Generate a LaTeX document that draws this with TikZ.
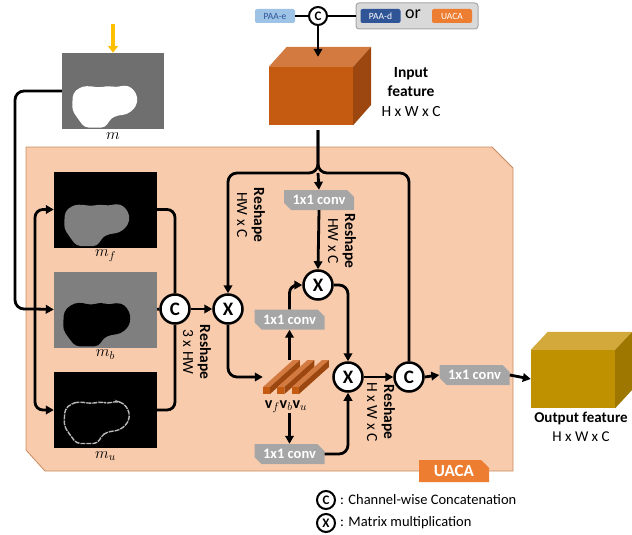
\RequirePackage{fix-cm}
\documentclass[tikz,border=0pt]{standalone}
\usepackage{fontspec}
\setmainfont{Carlito}
\usetikzlibrary{arrows.meta,calc,shapes.misc}
\definecolor{panelfill}{HTML}{F8CBAD}
\definecolor{paneldraw}{HTML}{C98A5E}
\definecolor{convgray}{HTML}{A6A6A6}
\definecolor{uacaor}{HTML}{ED7D31}
\definecolor{paaelb}{HTML}{9DC3E6}
\definecolor{paaddb}{HTML}{2F5597}
\definecolor{choicebg}{HTML}{D9D9D9}
\definecolor{cubefront}{HTML}{C55A11}
\definecolor{cubetop}{HTML}{D27A40}
\definecolor{cubeside}{HTML}{9C4710}
\definecolor{outfront}{HTML}{BF9000}
\definecolor{outtop}{HTML}{D3A93C}
\definecolor{outside}{HTML}{9E7700}
\definecolor{maskgray}{HTML}{6F6F6F}
\definecolor{midgray}{HTML}{7F7F7F}
\definecolor{arrowyel}{HTML}{FFC000}
\begin{document}
\begin{tikzpicture}[x=1pt,y=-1pt,
  ln/.style={line width=2.8pt, black},
  arr/.style={ln, -{Triangle[length=8pt,width=8.5pt]}},
  op/.style={circle, draw=black, line width=2.5pt, fill=white, minimum size=29pt, inner sep=0pt, font=\fontsize{19}{19}\selectfont\bfseries},
  opsmall/.style={circle, draw=black, line width=2pt, fill=white, minimum size=18pt, inner sep=0pt, font=\fontsize{13}{13}\selectfont\bfseries},
  conv/.style={chamfered rectangle, chamfered rectangle corners={north east,south west}, chamfered rectangle xsep=3.5pt, chamfered rectangle ysep=3.5pt, fill=convgray, minimum width=70pt, minimum height=20pt, inner sep=0pt, text=white, font=\fontsize{14.5}{14.5}\selectfont\bfseries},
  img/.style={minimum width=103pt, minimum height=76pt, inner sep=0pt},
  lbl/.style={font=\fontsize{16}{16}\selectfont, inner sep=0pt},
  rot/.style={rotate=-90, align=center, font=\fontsize{15.5}{17}\selectfont, inner sep=0pt},
  feat/.style={align=center, font=\fontsize{15.5}{19.5}\selectfont},
  smallbox/.style={rounded corners=2pt, minimum width=40pt, minimum height=14pt, inner sep=0pt, font=\fontsize{9.5}{9.5}\selectfont},
  blob/.style={rounded corners=4pt}
]
\useasboundingbox (0,0) rectangle (632,535);

% ---- UACA panel
\filldraw[fill=panelfill, draw=paneldraw, line width=0.8pt]
  (26,147) -- (492,147) -- (513,168) -- (513,471) -- (45,471) -- (26,450) -- cycle;
\node[chamfered rectangle, chamfered rectangle corners=north east, chamfered rectangle xsep=4pt, chamfered rectangle ysep=4pt,
  fill=uacaor, minimum width=70pt, minimum height=22pt, inner sep=0pt, text=white, font=\fontsize{17}{17}\selectfont\bfseries]
  (uacatab) at (454,471) {UACA};

% ---- top selector
\node[smallbox, fill=paaelb, text=paaddb] (paae) at (275,16) {PAA-e};
\node[opsmall] (ctop) at (318,16) {C};
\node[draw=gray!70, fill=choicebg, rounded corners=3pt, line width=1pt, minimum width=122pt, minimum height=26pt, inner sep=0pt] (choice) at (417,16) {};
\node[smallbox, fill=paaddb, text=white] (paad) at (380.5,16) {PAA-d};
\node[font=\fontsize{18}{18}\selectfont, inner sep=0pt] (ortxt) at (413,14) {or};
\node[smallbox, fill=uacaor, text=white] (uacas) at (452,16) {UACA};
\draw[ln] (paae.east) -- (ctop.west);
\draw[ln] (ctop.east) -- (choice.west);

% ---- input cube
\node[fill=cubefront, minimum width=84pt, minimum height=58pt, inner sep=0pt] (incube) at (311,96) {};
\fill[cubetop] (incube.north west) -- ++(18,-20) -- ($(incube.north east)+(18,-20)$) -- (incube.north east) -- cycle;
\fill[cubeside] (incube.north east) -- ++(18,-20) -- ++(0,58) -- (incube.south east) -- cycle;
\draw[arr] (ctop.south) -- ($(ctop.south |- incube.north)+(0,-10)$);
\node[feat, anchor=west] (infeat) at (378,92) {\textbf{Input}\\\textbf{feature}\\H x W x C};

% ---- output cube
\node[fill=outfront, minimum width=84pt, minimum height=58pt, inner sep=0pt] (outcube) at (573,379) {};
\fill[outtop] (outcube.north west) -- ++(17,-18) -- ($(outcube.north east)+(17,-18)$) -- (outcube.north east) -- cycle;
\fill[outside] (outcube.north east) -- ++(17,-18) -- ++(0,58) -- (outcube.south east) -- cycle;
\node[feat, anchor=north, font=\fontsize{15}{19}\selectfont] (outfeat) at (581,409) {\textbf{Output feature}\\H x W x C};

% ---- mask images
\node[img, fill=maskgray, minimum width=102pt] (mimg) at (113,91) {};
\fill[white, blob, shift={(mimg.north west)}] (17.7,34.7) -- (25,33) -- (37.7,34.7) -- (47.7,33) -- (54,34.7) -- (62.7,32.3) -- (70.3,34.7) -- (76,44) -- (74.3,54) -- (66,61.3) -- (52.7,63.3) -- (47.7,67.3) -- (43.7,74.7) -- (22.7,74.7) -- (16,65.7) -- (10.3,57.3) -- (11,40.7) -- cycle;
\node[lbl, anchor=north] (mlab) at ($(mimg.south)+(0,3)$) {$m$};
\draw[-{Triangle[length=7pt,width=10pt]}, arrowyel, line width=3.2pt] ($(mimg.north)+(0,-29)$) -- (mimg.north);

\node[img, fill=black] (mf) at (105.5,209.5) {};
\fill[midgray, blob, shift={(mf.north west)}] (17.7,34.7) -- (25,33) -- (37.7,34.7) -- (47.7,33) -- (54,34.7) -- (62.7,32.3) -- (70.3,34.7) -- (76,44) -- (74.3,54) -- (66,61.3) -- (52.7,63.3) -- (47.7,67.3) -- (43.7,74.7) -- (22.7,74.7) -- (16,65.7) -- (10.3,57.3) -- (11,40.7) -- cycle;
\node[lbl, anchor=north] (mflab) at ($(mf.south)+(0,2)$) {$m_f$};

\node[img, fill=midgray] (mb) at (105.5,309.5) {};
\fill[black, blob, shift={(mb.north west)}] (16.7,33.7) -- (25,31) -- (37.7,33.7) -- (47.7,31) -- (54,33.7) -- (62.7,31.3) -- (71.3,33.7) -- (77,44) -- (75.3,55) -- (67,62.3) -- (53.7,64.3) -- (48.7,68.3) -- (44.7,75) -- (21.7,75) -- (15,66.7) -- (9.3,58.3) -- (10,40.7) -- cycle;
\node[lbl, anchor=north] (mblab) at ($(mb.south)+(0,2)$) {$m_b$};

\node[img, fill=black] (mu) at (105.5,410) {};
\draw[gray!55, line width=1.4pt, blob, dash pattern=on 5pt off 1pt, shift={(mu.north west)}] (17.7,31.7) -- (25,30) -- (37.7,31.7) -- (47.7,30) -- (54,31.7) -- (62.7,29.3) -- (70.3,31.7) -- (76,41) -- (74.3,51) -- (66,58.3) -- (52.7,60.3) -- (47.7,64.3) -- (43.7,71.7) -- (22.7,71.7) -- (16,62.7) -- (10.3,54.3) -- (11,37.7) -- cycle;
\node[lbl, anchor=north] (mulab) at ($(mu.south)+(0,3)$) {$m_u$};

% ---- operators
\node[op] (c1) at (175,309) {C};
\node[op] (x1) at (228,309) {X};
\node[op] (x2) at (318,285) {X};
\node[op] (x3) at (348,377) {X};
\node[op] (c2) at (409,377) {C};

\node[conv] (conv1) at (319,200) {1x1 conv};
\node[conv] (conv2) at (289.5,319.5) {1x1 conv};
\node[conv] (conv3) at (289.5,454) {1x1 conv};
\node[conv] (conv4) at (474.5,375) {1x1 conv};

% ---- v block
\node[minimum width=67pt, minimum height=34pt, inner sep=0pt] (vblock) at (296.5,377) {};
\foreach \i in {0,1,2} {
  \coordinate (r) at ($(vblock.south west)+(\i*14.5,0)$);
  \fill[cubetop] ($(r)+(0,-7)$) -- ++(7,0) -- ++(30,-27) -- ++(-7,0) -- cycle;
  \fill[cubeside] ($(r)+(7,-7)$) -- ++(0,7) -- ++(30,-27) -- ++(0,-7) -- cycle;
  \fill[cubefront] (r) rectangle ++(7,-7);
}
\node[lbl] (vlab) at (286,407) {$\mathbf{v}_f\mathbf{v}_b\mathbf{v}_u$};

% ---- rotated labels
\node[rot] (rs1) at (251,215) {\textbf{Reshape}\\HW x C};
\node[rot] (rs2) at (342,241) {\textbf{Reshape}\\HW x C};
\node[rot] (rs3) at (197,352) {\textbf{Reshape}\\3 x HW};
\node[rot] (rs4) at (381,412) {\textbf{Reshape}\\H x W x C};

% ---- connectors
\coordinate (J) at (318,173);
\coordinate (B) at (35,309);
\draw[ln, rounded corners=9pt] (mimg.west) -- (15,91) -- (15,309) -- (B);
\draw[arr] (B) -- (mb.west);
\draw[arr, rounded corners=8pt] (B) |- (mf.west);
\draw[arr, rounded corners=8pt] (B) |- (mu.west);
\draw[ln, rounded corners=8pt] (mf.east) -| (c1.north);
\draw[ln, rounded corners=8pt] (mu.east) -| (c1.south);
\draw[ln] (mb.east) -- (c1.west);
\draw[arr] (c1.east) -- (x1.west);

\draw[arr, rounded corners=9pt] ($(ctop.south |- incube.south)+(0,5)$) -- (J) -- (x1.north |- J) -- (x1.north);
\draw[ln, rounded corners=9pt] ($(ctop.south |- incube.south)+(0,5)$) -- (J) -- (c2.north |- J) -- (c2.north);
\draw[arr] (J) -- (conv1.north);
\draw[arr] (conv1.south) -- (x2.north);

\draw[arr, rounded corners=9pt] (x1.south) |- (vblock.west);
\draw[arr] (conv2.south |- vblock.north) -- (conv2.south);
\draw[arr, rounded corners=8pt] (conv2.north) |- (x2.west);
\draw[arr] (conv3.north |- vlab.south) -- (conv3.north);
\draw[arr, rounded corners=9pt] (conv3.east) -| (x3.south);
\draw[arr, rounded corners=9pt] (x2.east) -| (x3.north);
\draw[arr] (x3.east) -- (c2.west);
\draw[arr] (c2.east) -- (conv4.west);
\draw[arr] (conv4.east) -- (outcube.west);

% ---- legend
\node[opsmall] (lc) at (326,500) {C};
\node[anchor=west, font=\fontsize{14.5}{14.5}\selectfont, inner sep=0pt] (lctxt) at ($(lc.east)+(4,0)$) {: Channel-wise Concatenation};
\node[opsmall] (lx) at (326,523) {X};
\node[anchor=west, font=\fontsize{14.5}{14.5}\selectfont, inner sep=0pt] (lxtxt) at ($(lx.east)+(4,0)$) {: Matrix multiplication};
\end{tikzpicture}
\end{document}
